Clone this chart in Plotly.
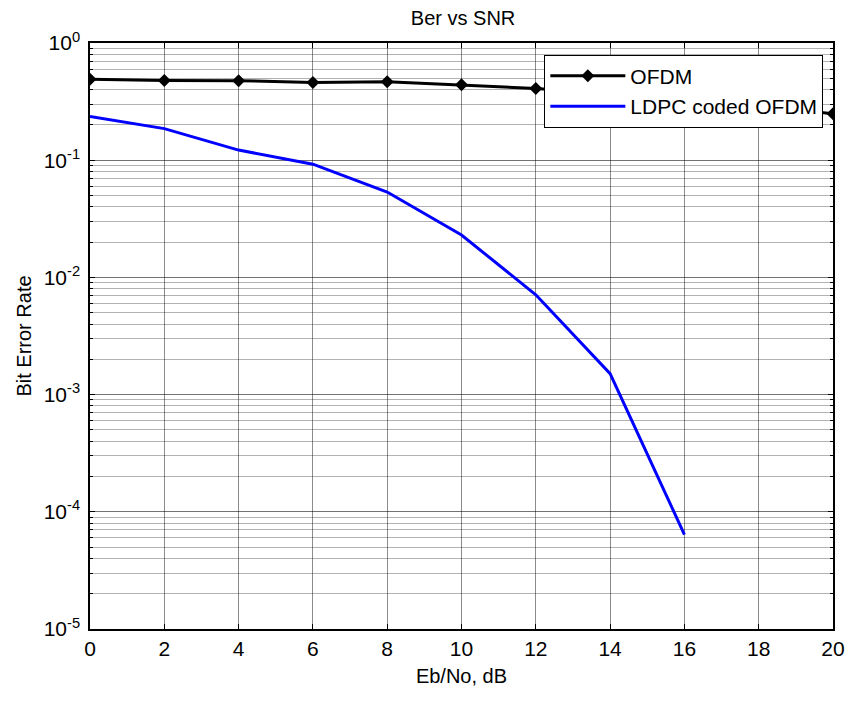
import plotly.graph_objects as go

snr_db = [0, 2, 4, 6, 8, 10, 12, 14, 16, 18, 20]
ber_ofdm = [0.491, 0.479, 0.477, 0.460, 0.466, 0.440, 0.41, 0.37, 0.33, 0.29, 0.249]
snr_ldpc = [0, 2, 4, 6, 8, 10, 12, 14, 16]
ber_ldpc = [0.236, 0.186, 0.122, 0.0925, 0.0535, 0.0230, 0.00711, 0.00151, 6.4e-5]

x_ticks = list(range(0, 21, 2))
y_ticks = [1e-5, 1e-4, 1e-3, 1e-2, 1e-1, 1e0]
y_ticktext = ["10<sup>-5</sup>", "10<sup>-4</sup>", "10<sup>-3</sup>",
              "10<sup>-2</sup>", "10<sup>-1</sup>", "10<sup>0</sup>"]
y_minor = [m * 10.0 ** e for e in range(-5, 0) for m in range(2, 10)]

FONT = "Liberation Sans"

fig = go.Figure()
fig.add_trace(go.Scatter(
    x=snr_db, y=ber_ofdm, mode="lines+markers", name="OFDM",
    line=dict(color="black", width=3),
    marker=dict(symbol="diamond", size=10, color="black"),
))
fig.add_trace(go.Scatter(
    x=snr_ldpc, y=ber_ldpc, mode="lines", name="LDPC coded OFDM",
    line=dict(color="#0000ff", width=3),
))

# page body has an 8px margin, so the figure is sized to fit the 857x704 window
fig.update_layout(
    width=849, height=688,
    margin=dict(l=82, r=15, t=35, b=59),
    paper_bgcolor="white", plot_bgcolor="white",
    font=dict(family=FONT, size=20, color="black"),
    title=dict(text="Ber vs SNR", x=0.536, xanchor="center", y=0.985, yanchor="middle",
               font=dict(family=FONT, size=20)),
    legend=dict(x=0.987, y=0.98, xanchor="right", yanchor="top",
                bgcolor="white", bordercolor="black", borderwidth=1,
                font=dict(family=FONT, size=21), tracegroupgap=2,
                itemwidth=75),
    showlegend=True,
)
fig.update_xaxes(
    range=[0, 20], tickvals=x_ticks, ticks="inside", ticklen=5,
    tickcolor="black", showline=True, linecolor="black", linewidth=1.5,
    mirror="allticks", showgrid=True, gridcolor="rgba(0,0,0,0.45)", gridwidth=1,
    zeroline=False, title=dict(text="Eb/No, dB", standoff=10,
                               font=dict(family=FONT, size=20)),
    tickfont=dict(family=FONT, size=21),
)
fig.update_yaxes(
    type="log", range=[-5, 0], tickvals=y_ticks, ticktext=y_ticktext,
    ticks="inside", ticklen=5, tickcolor="black", showline=True,
    linecolor="black", linewidth=1.5, mirror="allticks",
    showgrid=True, gridcolor="rgba(0,0,0,0.55)", gridwidth=1, zeroline=False,
    minor=dict(tickvals=y_minor, ticks="inside", ticklen=3, tickcolor="black",
               showgrid=True, gridcolor="rgba(0,0,0,0.3)", gridwidth=1),
    title=dict(text="Bit Error Rate", standoff=7,
               font=dict(family=FONT, size=20)),
    tickfont=dict(family=FONT, size=21),
    ticklabelstandoff=4,
)

fig.write_html("out.html")
